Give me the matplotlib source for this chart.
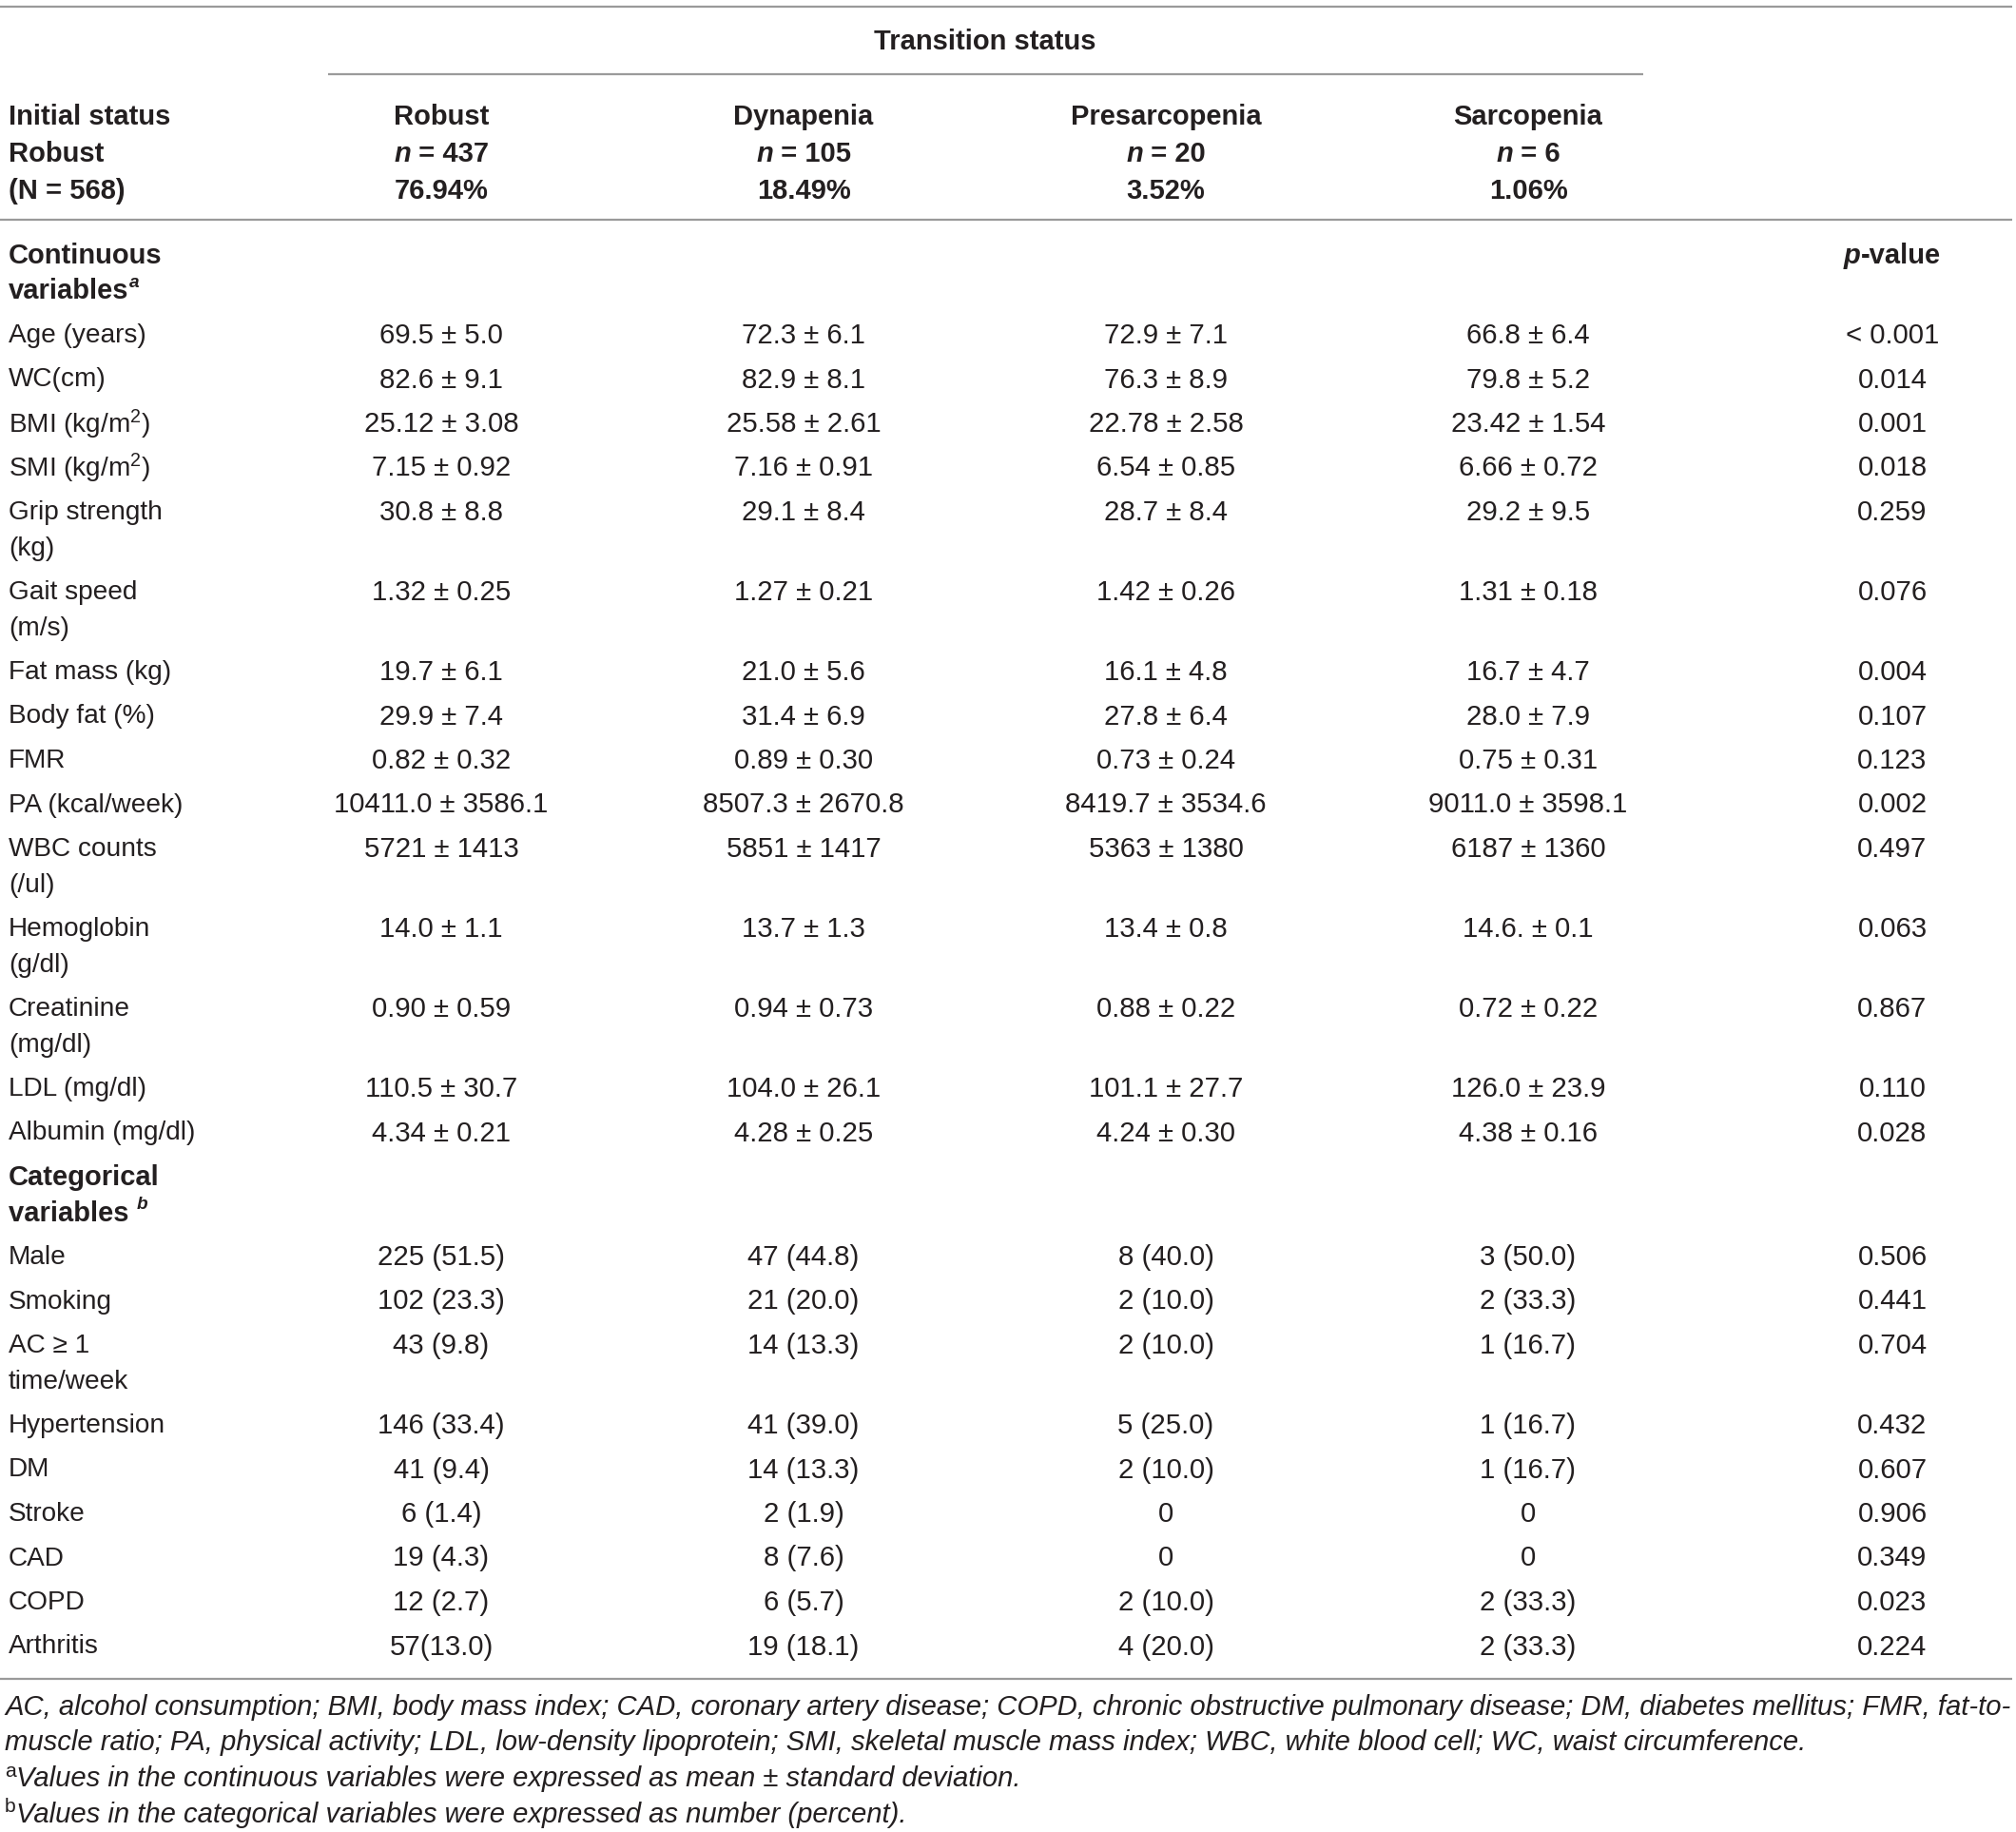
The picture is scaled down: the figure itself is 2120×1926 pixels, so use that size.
import matplotlib
matplotlib.use("Agg")
import matplotlib.pyplot as plt

plt.rcParams['font.family'] = ['Liberation Sans', 'DejaVu Sans']
plt.rcParams['mathtext.fontset'] = 'custom'
plt.rcParams['mathtext.rm'] = 'Liberation Sans'
plt.rcParams['mathtext.it'] = 'Liberation Sans:italic'
plt.rcParams['mathtext.bf'] = 'Liberation Sans:bold'

# ---- data ----
groups = ["Robust", "Dynapenia", "Presarcopenia", "Sarcopenia"]
group_n = ["437", "105", "20", "6"]
group_pct = ["76.94%", "18.49%", "3.52%", "1.06%"]

cont_labels = ["Age (years)", "WC(cm)", "BMI (kg/m$^2$)", "SMI (kg/m$^2$)",
               "Grip strength\n(kg)", "Gait speed\n(m/s)", "Fat mass (kg)",
               "Body fat (%)", "FMR", "PA (kcal/week)", "WBC counts\n(/ul)",
               "Hemoglobin\n(g/dl)", "Creatinine\n(mg/dl)", "LDL (mg/dl)",
               "Albumin (mg/dl)"]
cont_robust = ["69.5 ± 5.0", "82.6 ± 9.1", "25.12 ± 3.08", "7.15 ± 0.92", "30.8 ± 8.8",
               "1.32 ± 0.25", "19.7 ± 6.1", "29.9 ± 7.4", "0.82 ± 0.32", "10411.0 ± 3586.1",
               "5721 ± 1413", "14.0 ± 1.1", "0.90 ± 0.59", "110.5 ± 30.7", "4.34 ± 0.21"]
cont_dyna = ["72.3 ± 6.1", "82.9 ± 8.1", "25.58 ± 2.61", "7.16 ± 0.91", "29.1 ± 8.4",
             "1.27 ± 0.21", "21.0 ± 5.6", "31.4 ± 6.9", "0.89 ± 0.30", "8507.3 ± 2670.8",
             "5851 ± 1417", "13.7 ± 1.3", "0.94 ± 0.73", "104.0 ± 26.1", "4.28 ± 0.25"]
cont_presarc = ["72.9 ± 7.1", "76.3 ± 8.9", "22.78 ± 2.58", "6.54 ± 0.85", "28.7 ± 8.4",
                "1.42 ± 0.26", "16.1 ± 4.8", "27.8 ± 6.4", "0.73 ± 0.24", "8419.7 ± 3534.6",
                "5363 ± 1380", "13.4 ± 0.8", "0.88 ± 0.22", "101.1 ± 27.7", "4.24 ± 0.30"]
cont_sarc = ["66.8 ± 6.4", "79.8 ± 5.2", "23.42 ± 1.54", "6.66 ± 0.72", "29.2 ± 9.5",
             "1.31 ± 0.18", "16.7 ± 4.7", "28.0 ± 7.9", "0.75 ± 0.31", "9011.0 ± 3598.1",
             "6187 ± 1360", "14.6. ± 0.1", "0.72 ± 0.22", "126.0 ± 23.9", "4.38 ± 0.16"]
cont_p = ["< 0.001", "0.014", "0.001", "0.018", "0.259", "0.076", "0.004", "0.107",
          "0.123", "0.002", "0.497", "0.063", "0.867", "0.110", "0.028"]

cat_labels = ["Male", "Smoking", "AC ≥ 1\ntime/week", "Hypertension", "DM", "Stroke",
              "CAD", "COPD", "Arthritis"]
cat_robust = ["225 (51.5)", "102 (23.3)", "43 (9.8)", "146 (33.4)", "41 (9.4)", "6 (1.4)",
              "19 (4.3)", "12 (2.7)", "57(13.0)"]
cat_dyna = ["47 (44.8)", "21 (20.0)", "14 (13.3)", "41 (39.0)", "14 (13.3)", "2 (1.9)",
            "8 (7.6)", "6 (5.7)", "19 (18.1)"]
cat_presarc = ["8 (40.0)", "2 (10.0)", "2 (10.0)", "5 (25.0)", "2 (10.0)", "0", "0",
               "2 (10.0)", "4 (20.0)"]
cat_sarc = ["3 (50.0)", "2 (33.3)", "1 (16.7)", "1 (16.7)", "1 (16.7)", "0", "0",
            "2 (33.3)", "2 (33.3)"]
cat_p = ["0.506", "0.441", "0.704", "0.432", "0.607", "0.906", "0.349", "0.023", "0.224"]

footnote_abbr = ("AC, alcohol consumption; BMI, body mass index; CAD, coronary artery disease; "
                 "COPD, chronic obstructive pulmonary disease; DM, diabetes mellitus; FMR, fat-to-\n"
                 "muscle ratio; PA, physical activity; LDL, low-density lipoprotein; SMI, skeletal "
                 "muscle mass index; WBC, white blood cell; WC, waist circumference.")
footnote_a = "Values in the continuous variables were expressed as mean ± standard deviation."
footnote_b = "Values in the categorical variables were expressed as number (percent)."

# ---- layout ----
W, H = 2120, 1926
FS_LAB = 20.2
FS_VAL = 21.2
FS_HEAD = 21
FS_FOOT = 21.1
TXT = '#231f20'
RULE = '#9a9a9a'
col_x = [464, 845, 1226, 1607]
p_x = 1990
lab_x = 9
line_gap = 37.5
row_gap = 46.5
DY = 4  # baseline nudge

fig = plt.figure(figsize=(W / 100, H / 100), dpi=100)
ax = fig.add_axes([0, 0, 1, 1])
ax.set_xlim(0, W)
ax.set_ylim(H, 0)
ax.axis('off')
renderer = fig.canvas.get_renderer()


def run_width(s, **kw):
    # width incl. spaces: measure with bars on both sides
    t1 = ax.text(0, 0, "|" + s + "|", **kw)
    t2 = ax.text(0, 0, "||", **kw)
    w = t1.get_window_extent(renderer).width - t2.get_window_extent(renderer).width
    t1.remove()
    t2.remove()
    return w


def draw_runs(x, y, runs, ha='left'):
    runs = [(s, dict(kw)) for s, kw in runs]
    shifts = [kw.pop('dy', 0) for s, kw in runs]
    widths = [run_width(s, **kw) for s, kw in runs]
    total = sum(widths)
    if ha == 'center':
        x = x - total / 2
    for (s, kw), w, dy in zip(runs, widths, shifts):
        ax.text(x, y + DY + dy, s, ha='left', va='center', color=TXT, **kw)
        x += w


def cell(x, y, s, ha='center', fs=FS_VAL, **kw):
    for i, line in enumerate(s.split("\n")):
        ax.text(x, y + DY + i * line_gap, line, ha=ha, va='center', color=TXT,
                fontsize=fs, **kw)


# rules
ax.hlines(7, 0, 2116, color=RULE, lw=1.6)
ax.hlines(78, 345, 1728, color=RULE, lw=1.6)
ax.hlines(231, 0, 2116, color=RULE, lw=1.6)
ax.hlines(1765, 0, 2116, color=RULE, lw=1.6)

# header
cell(1036, 40, "Transition status", fs=FS_HEAD, fontweight='bold')
for i, txt in enumerate(["Initial status", "Robust", "(N = 568)"]):
    cell(lab_x, 119 + i * 39, txt, ha='left', fs=FS_HEAD, fontweight='bold')
for x, g, n, pct in zip(col_x, groups, group_n, group_pct):
    cell(x, 119, g, fs=FS_HEAD, fontweight='bold')
    draw_runs(x, 158, [("n", dict(fontsize=FS_HEAD, fontweight='bold', style='italic')),
                       (" = " + n, dict(fontsize=FS_HEAD, fontweight='bold'))], ha='center')
    cell(x, 197, pct, fs=FS_HEAD, fontweight='bold')

# continuous section
y = 265
cell(lab_x, y, "Continuous", ha='left', fs=FS_HEAD, fontweight='bold')
draw_runs(lab_x, y + line_gap, [("variables", dict(fontsize=FS_HEAD, fontweight='bold')),
                                ("a", dict(fontsize=FS_HEAD * 0.65, fontweight='bold',
                                           style='italic', dy=-9))])
draw_runs(p_x, y, [("p", dict(fontsize=FS_HEAD, fontweight='bold', style='italic')),
                   ("-value", dict(fontsize=FS_HEAD, fontweight='bold'))], ha='center')
y += row_gap + line_gap

for lab, a, b, c, d, p in zip(cont_labels, cont_robust, cont_dyna, cont_presarc, cont_sarc, cont_p):
    cell(lab_x, y, lab, ha='left', fs=FS_LAB)
    for x, v in zip(col_x, [a, b, c, d]):
        cell(x, y, v)
    cell(p_x, y, p)
    y += row_gap + lab.count("\n") * line_gap

# categorical section
cell(lab_x, y, "Categorical", ha='left', fs=FS_HEAD, fontweight='bold')
draw_runs(lab_x, y + line_gap, [("variables ", dict(fontsize=FS_HEAD, fontweight='bold')),
                                ("b", dict(fontsize=FS_HEAD * 0.65, fontweight='bold',
                                           style='italic', dy=-9))])
y += row_gap + line_gap

for lab, a, b, c, d, p in zip(cat_labels, cat_robust, cat_dyna, cat_presarc, cat_sarc, cat_p):
    cell(lab_x, y, lab, ha='left', fs=FS_LAB)
    for x, v in zip(col_x, [a, b, c, d]):
        cell(x, y, v)
    cell(p_x, y, p)
    y += row_gap + lab.count("\n") * line_gap

# footnotes
fy = 1791
for i, line in enumerate(footnote_abbr.split("\n")):
    cell(5, fy + i * line_gap, line, ha='left', fs=FS_FOOT, style='italic')
draw_runs(5, fy + 2 * line_gap, [("a", dict(fontsize=FS_FOOT * 0.72, dy=-8)),
                                 (footnote_a, dict(fontsize=FS_FOOT, style='italic'))])
draw_runs(5, fy + 3 * line_gap, [("b", dict(fontsize=FS_FOOT * 0.72, dy=-8)),
                                 (footnote_b, dict(fontsize=FS_FOOT, style='italic'))])

fig.savefig("out.png", dpi=100, facecolor='white')
